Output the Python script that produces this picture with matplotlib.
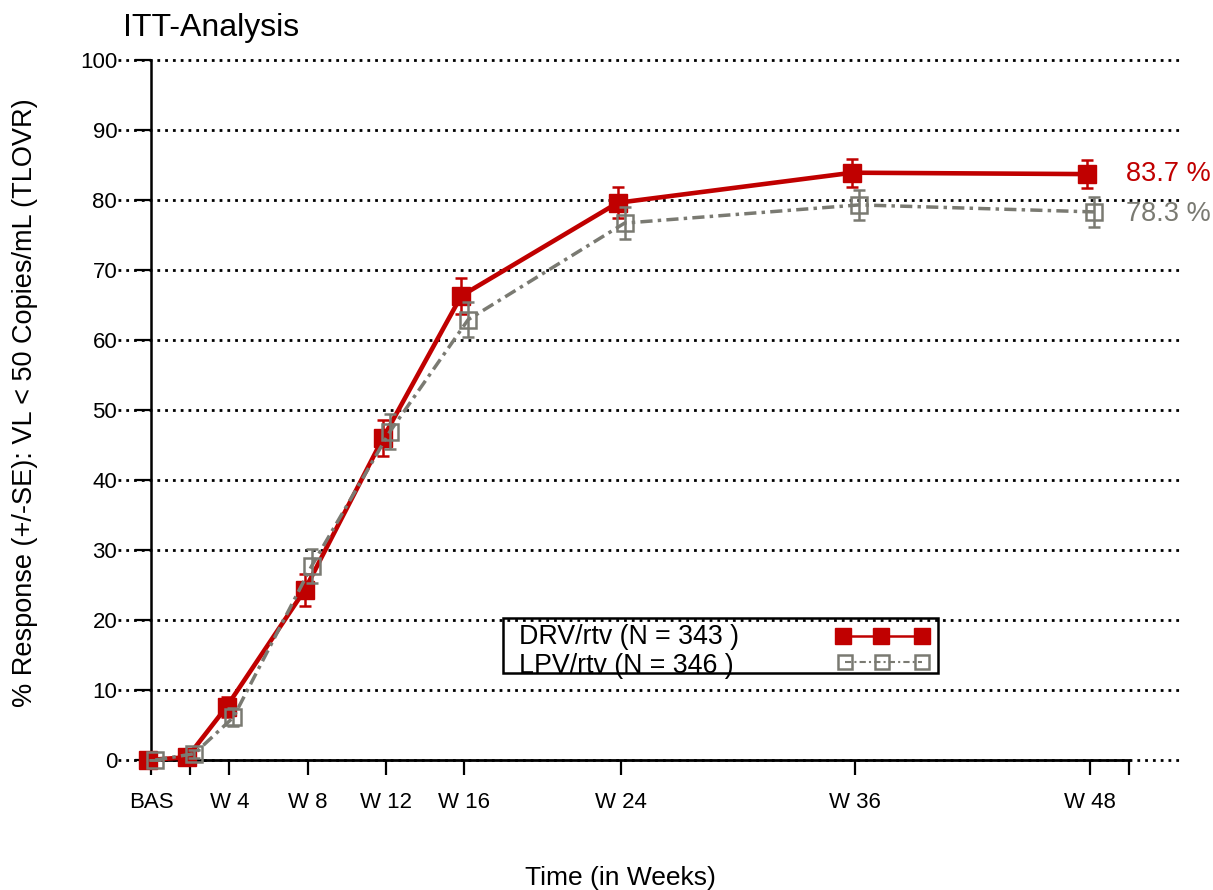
import matplotlib.pyplot as plt
from matplotlib.patches import Rectangle

plt.rcParams['font.family'] = ['Liberation Sans', 'DejaVu Sans']

# Visit weeks and tick labels
weeks = [0, 2, 4, 8, 12, 16, 24, 36, 48]
tick_weeks = [0, 2, 4, 8, 12, 16, 24, 36, 48, 50]
tick_labels = ['BAS', '', 'W 4', 'W 8', 'W 12', 'W 16', 'W 24', 'W 36', 'W 48', '']

# % response (VL < 50 copies/mL, TLOVR) and standard errors
drv = [0.0, 0.4, 7.6, 24.3, 46.0, 66.3, 79.6, 83.9, 83.7]
drv_se = [0.0, 0.4, 1.4, 2.3, 2.6, 2.6, 2.2, 2.0, 2.0]
lpv = [0.0, 0.9, 6.1, 27.7, 46.9, 62.9, 76.7, 79.3, 78.3]
lpv_se = [0.0, 0.6, 1.3, 2.4, 2.5, 2.5, 2.3, 2.2, 2.2]

drv_label = 'DRV/rtv (N = 343 )'
lpv_label = 'LPV/rtv (N = 346 )'

red = '#C00000'
grey = '#7A7A72'

fig = plt.figure(figsize=(12.13, 8.9), dpi=100)
ax = fig.add_axes([118 / 1213, 130 / 890, 1062 / 1213, 700 / 890])
ax.set_xlim(-1.7, 52.6)
ax.set_ylim(0, 100)

# dotted horizontal grid
for v in range(0, 101, 10):
    ax.axhline(v, color='black', lw=2, dashes=(1, 1.8), zorder=1, clip_on=False)

# small horizontal shift so the two groups don't sit on top of each other
drv_x = [w - 0.15 for w in weeks]
lpv_x = [w + 0.2 for w in weeks]

ax.errorbar(drv_x, drv, yerr=drv_se, color=red, lw=3.3, marker='s', ms=12.5,
            mfc=red, mec=red, ecolor=red, elinewidth=1.8, capsize=4,
            capthick=1.8, clip_on=False, zorder=3)
ax.errorbar(lpv_x, lpv, yerr=lpv_se, color=grey, lw=2.5, marker='s', ms=11,
            mfc='none', mec=grey, mew=1.8, ecolor=grey, elinewidth=1.8,
            capsize=4, capthick=1.8, dashes=(3.5, 1.5, 1, 1.5),
            clip_on=False, zorder=4)

# end-of-study values
ax.annotate(f'{drv[-1]} %', xy=(weeks[-1], drv[-1]), xytext=(36, 0),
            textcoords='offset pixels', color=red, fontsize=19.5, va='center')
ax.annotate(f'{lpv[-1]} %', xy=(weeks[-1], lpv[-1]), xytext=(36, -2),
            textcoords='offset pixels', color=grey, fontsize=19.5, va='center')

# axes: y axis sits at week 0, x axis runs from week 0 to 50
for s in ['top', 'right']:
    ax.spines[s].set_visible(False)
ax.spines['left'].set_position(('data', 0))
ax.spines['left'].set_bounds(0, 100)
ax.spines['bottom'].set_bounds(0, 50)
ax.spines['left'].set_linewidth(1.8)
ax.spines['bottom'].set_linewidth(2)
ax.spines['left'].set_zorder(2)
ax.spines['bottom'].set_zorder(2)

ax.set_xticks(tick_weeks)
ax.set_xticklabels(tick_labels)
ax.set_yticks(range(0, 101, 10))
ax.tick_params(axis='x', direction='out', length=11, width=1.6, pad=12,
               labelsize=16)
ax.tick_params(axis='y', direction='out', length=11.5, width=1.6, pad=13,
               labelsize=16)

# legend box drawn by hand
ax.add_patch(Rectangle((0.3625, 0.124), 0.4095, 0.079, transform=ax.transAxes,
                       fill=False, ec='black', lw=1.8, clip_on=False, zorder=5))
ax.text(0.378, 0.176, drv_label, transform=ax.transAxes, fontsize=19.3,
        va='center', zorder=6)
ax.text(0.378, 0.134, lpv_label, transform=ax.transAxes, fontsize=19.3,
        va='center', zorder=6)
ax.plot([0.683, 0.7185, 0.757], [0.177] * 3, transform=ax.transAxes,
        color=red, lw=1.8, marker='s', ms=12, mfc=red, mec=red,
        clip_on=False, zorder=6)
ax.plot([0.685, 0.7195, 0.757], [0.140] * 3, transform=ax.transAxes,
        color=grey, lw=1.5, marker='s', ms=10, mfc='none', mec=grey, mew=1.8,
        dashes=(3, 1.5, 1, 1.5), clip_on=False, zorder=6)

fig.text(123 / 1213, 1 - 28 / 890, 'ITT-Analysis', fontsize=23, va='center')
fig.text(620 / 1213, 1 - 878 / 890, 'Time (in Weeks)', fontsize=19,
         ha='center', va='center')
fig.text(25 / 1213, 1 - 403 / 890,
         '% Response (+/-SE): VL < 50 Copies/mL (TLOVR)', fontsize=19.5,
         rotation=90, ha='center', va='center')

fig.savefig('out.png', dpi=100)
